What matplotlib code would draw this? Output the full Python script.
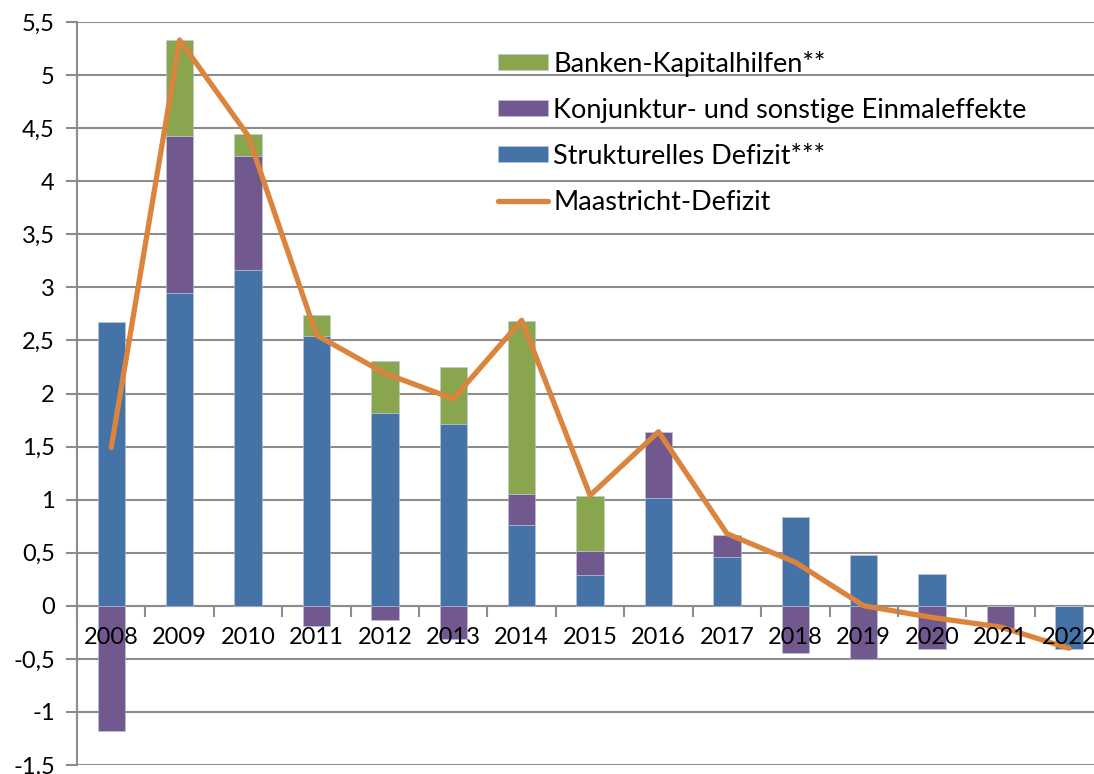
import matplotlib.pyplot as plt
import numpy as np
from matplotlib.ticker import FuncFormatter

years = [str(y) for y in range(2008, 2023)]
strukturell = [2.67, 2.95, 3.16, 2.54, 1.82, 1.71, 0.76, 0.29, 1.02, 0.46, 0.84, 0.48, 0.30, 0.0, -0.41]
konjunktur = [-1.18, 1.48, 1.08, -0.19, -0.13, -0.31, 0.29, 0.23, 0.62, 0.21, -0.44, -0.50, -0.41, -0.21, 0.0]
banken = [0.0, 0.90, 0.20, 0.20, 0.49, 0.54, 1.63, 0.51, 0.0, 0.0, 0.0, 0.0, 0.0, 0.0, 0.0]
maastricht = [1.49, 5.33, 4.43, 2.55, 2.19, 1.95, 2.69, 1.04, 1.64, 0.68, 0.41, 0.0, -0.11, -0.2, -0.4]

c_blue = '#4572A7'
c_purple = '#71588F'
c_green = '#89A54E'
c_orange = '#DB843D'
grid_c = '#8C8C8C'

plt.rcParams['font.family'] = ['Lato', 'DejaVu Sans']

fig = plt.figure(figsize=(10.94, 7.74), dpi=100)
ax = fig.add_axes([0.0704, 0.0116, 0.938, 0.96])

x = np.arange(len(years))
w = 0.4

yticks = np.arange(-1.5, 5.51, 0.5)
for yv in yticks:
    ax.axhline(yv, color=grid_c, lw=1.5, zorder=0)

# stack positives and negatives separately, like Excel does
pos = np.zeros(len(years))
neg = np.zeros(len(years))
handles = {}
for name, vals, col in [('Strukturelles Defizit***', strukturell, c_blue),
                        ('Konjunktur- und sonstige Einmaleffekte', konjunktur, c_purple),
                        ('Banken-Kapitalhilfen**', banken, c_green)]:
    v = np.array(vals)
    bottoms = np.where(v >= 0, pos, neg)
    b = ax.bar(x, v, w, bottom=bottoms, color=col, edgecolor='#B9C9DE', linewidth=0.4,
               label=name, zorder=2)
    handles[name] = b
    pos = pos + np.where(v > 0, v, 0)
    neg = neg + np.where(v < 0, v, 0)

line, = ax.plot(x, maastricht, color=c_orange, lw=3.8, solid_capstyle='round',
                label='Maastricht-Defizit', zorder=3)

ax.set_xlim(-0.5, len(years) - 0.5)
ax.set_ylim(-1.5, 5.5)
ax.set_yticks(yticks)
ax.yaxis.set_major_formatter(FuncFormatter(lambda v, p: ('%g' % v).replace('.', ',')))

for s in ['top', 'right']:
    ax.spines[s].set_visible(False)
ax.spines['left'].set_color(grid_c)
ax.spines['left'].set_linewidth(1.5)
ax.spines['bottom'].set_position(('data', 0))
ax.spines['bottom'].set_color(grid_c)
ax.spines['bottom'].set_linewidth(1.5)
ax.spines['bottom'].set_zorder(1)

ax.set_xticks(x)
ax.set_xticklabels(years)
ax.set_xticks(np.arange(-0.5, len(years), 1), minor=True)
ax.tick_params(axis='x', which='major', length=0, labelsize=17, pad=15)
ax.tick_params(axis='x', which='minor', length=8, width=1.5, color=grid_c, direction='out')
ax.tick_params(axis='y', length=8, width=1.5, color=grid_c, labelsize=17, pad=8)
# year labels sit on top of the bars, as in the original
ax.xaxis.set_zorder(4)

order = ['Banken-Kapitalhilfen**', 'Konjunktur- und sonstige Einmaleffekte', 'Strukturelles Defizit***']
leg = ax.legend([handles[n] for n in order] + [line], order + ['Maastricht-Defizit'],
                loc='upper left', bbox_to_anchor=(0.40, 0.976), borderaxespad=0,
                frameon=False, fontsize=19.5, handlelength=1.82, handleheight=0.52,
                handletextpad=0.2, labelspacing=0.78)

fig.savefig('out.png', dpi=100)
